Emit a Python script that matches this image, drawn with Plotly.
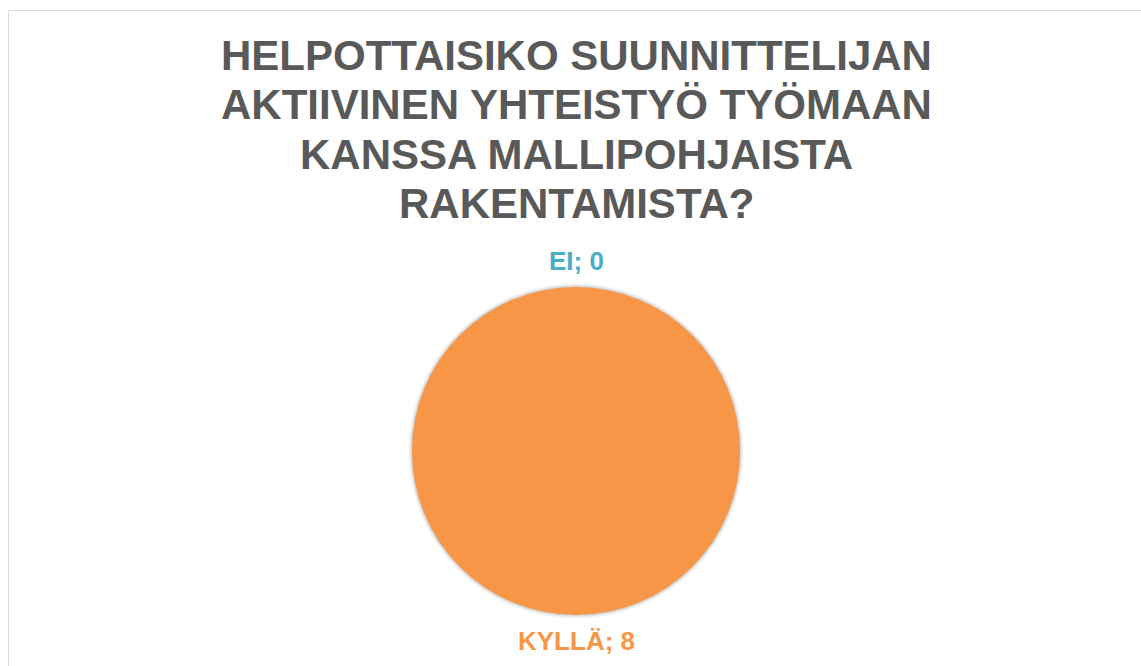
import plotly.graph_objects as go

# Data
labels = ["KYLLÄ", "EI"]
values = [8, 0]
colors = ["#F79646", "#4BACC6"]
title_lines = [
    "HELPOTTAISIKO SUUNNITTELIJAN",
    "AKTIIVINEN YHTEISTYÖ TYÖMAAN",
    "KANSSA MALLIPOHJAISTA",
    "RAKENTAMISTA?",
]

W, H = 1141, 666
cx, cy, r = 576, 451, 164  # pie centre / radius in pixels


def px_x(x):
    return x / W


def px_y(y):
    return 1 - y / H


fig = go.Figure()
fig.add_trace(go.Pie(
    labels=labels,
    values=values,
    sort=False,
    direction="clockwise",
    rotation=0,
    marker=dict(colors=colors, line=dict(width=0)),
    textinfo="none",
    hoverinfo="label+value",
    showlegend=False,
    domain=dict(x=[px_x(cx - r), px_x(cx + r)], y=[px_y(cy + r), px_y(cy - r)]),
))

shapes = []
# soft shadow rings behind the pie
for d, a in [(4, 0.025), (3, 0.035), (2, 0.05), (1, 0.07)]:
    shapes.append(dict(
        type="circle", xref="paper", yref="paper", layer="below",
        x0=px_x(cx - r - d), x1=px_x(cx + r + d),
        y0=px_y(cy + r + d), y1=px_y(cy - r - d),
        fillcolor=f"rgba(0,0,0,{a})", line=dict(width=0),
    ))
# chart border (cropped on right/bottom)
shapes.append(dict(
    type="rect", xref="paper", yref="paper", layer="below",
    x0=px_x(8.5), x1=1.02, y0=-0.02, y1=px_y(10.5),
    line=dict(color="#D9D9D9", width=1), fillcolor="rgba(0,0,0,0)",
))

annotations = []
title_y = [56, 105, 154, 203]
for line, yy in zip(title_lines, title_y):
    annotations.append(dict(
        text=line, xref="paper", yref="paper", x=px_x(576), y=px_y(yy),
        xanchor="center", yanchor="middle", showarrow=False,
        font=dict(family="Liberation Sans, Arial, sans-serif", size=42, color="#595959"),
    ))

label_y = {"KYLLÄ": 641, "EI": 261}
for lab, val, col in zip(labels, values, colors):
    annotations.append(dict(
        text=f"<b>{lab}; {val}</b>", xref="paper", yref="paper",
        x=px_x(cx), y=px_y(label_y[lab]),
        xanchor="center", yanchor="middle", showarrow=False,
        font=dict(family="Liberation Sans, Arial, sans-serif", size=26, color=col),
    ))
# make title bold
for a in annotations[:4]:
    a["text"] = f"<b>{a['text']}</b>"

fig.update_layout(
    width=W, height=H,
    margin=dict(l=0, r=0, t=0, b=0),
    paper_bgcolor="white",
    plot_bgcolor="white",
    shapes=shapes,
    annotations=annotations,
)

fig.write_html("out.html")
